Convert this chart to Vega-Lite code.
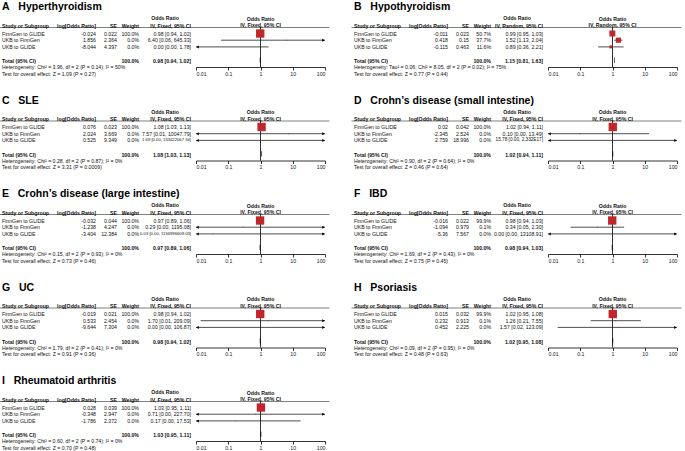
{
"$schema":"https://vega.github.io/schema/vega-lite/v6.json",
"padding":{"left":2,"top":2,"right":1,"bottom":3},
"bounds":"flush",
"columns":2,
"spacing":{"row":53.5,"column":27},
"resolve":{"scale":{"x":"independent","y":"independent","size":"independent"},"axis":{"x":"independent"}},
"config":{"view":{"stroke":null},"font":"Liberation Sans","header":{"labels":false,"title":null,"labelFontSize":0,"labelPadding":0,"titlePadding":0},"text":{"font":"Liberation Sans","fontSize":5.2,"color":"#111","baseline":"middle"}},
"data":{"values":[
{"p":"A\u00a0\u00a0\u00a0Hyperthyroidism","row":"hdr1","ci":"Odds Ratio"},
{"p":"A\u00a0\u00a0\u00a0Hyperthyroidism","row":"hdr2","study":"Study or Subgroup","logor":"log[Odds Ratio]","se":"SE","weight":"Weight","ci":"IV, Fixed, 95% CI"},
{"p":"A\u00a0\u00a0\u00a0Hyperthyroidism","row":"r1","study":"FinnGen to GLIDE","logor":"-0.024","se":"0.022","weight":"100.0%","ci":"0.98 [0.94, 1.02]","or":0.98,"lo":0.94,"hi":1.02,"w":100},
{"p":"A\u00a0\u00a0\u00a0Hyperthyroidism","row":"r2","study":"UKB to FinnGen","logor":"1.856","se":"2.364","weight":"0.0%","ci":"6.40 [0.06, 645.33]","or":6.40,"lo":0.06,"hi":645.33,"w":0},
{"p":"A\u00a0\u00a0\u00a0Hyperthyroidism","row":"r3","study":"UKB to GLIDE","logor":"-8.044","se":"4.397","weight":"0.0%","ci":"0.00 [0.00, 1.78]","or":0.00032,"lo":5.8e-8,"hi":1.78,"w":0},
{"p":"A\u00a0\u00a0\u00a0Hyperthyroidism","row":"total","study":"Total (95% CI)","weight":"100.0%","ci":"0.98 [0.94, 1.02]","or":0.98,"lo":0.94,"hi":1.02},
{"p":"A\u00a0\u00a0\u00a0Hyperthyroidism","row":"het","study":"Heterogeneity: Chi² = 3.96, df = 2 (P = 0.14); I² = 50%"},
{"p":"A\u00a0\u00a0\u00a0Hyperthyroidism","row":"test","study":"Test for overall effect: Z = 1.09 (P = 0.27)"},

{"p":"B\u00a0\u00a0\u00a0Hypothyroidism","row":"hdr1","ci":"Odds Ratio"},
{"p":"B\u00a0\u00a0\u00a0Hypothyroidism","row":"hdr2","study":"Study or Subgroup","logor":"log[Odds Ratio]","se":"SE","weight":"Weight","ci":"IV, Random, 95% CI"},
{"p":"B\u00a0\u00a0\u00a0Hypothyroidism","row":"r1","study":"FinnGen to GLIDE","logor":"-0.011","se":"0.023","weight":"50.7%","ci":"0.99 [0.95, 1.03]","or":0.99,"lo":0.95,"hi":1.03,"w":50.7},
{"p":"B\u00a0\u00a0\u00a0Hypothyroidism","row":"r2","study":"UKB to FinnGen","logor":"0.418","se":"0.15","weight":"37.7%","ci":"1.52 [1.13, 2.04]","or":1.52,"lo":1.13,"hi":2.04,"w":37.7},
{"p":"B\u00a0\u00a0\u00a0Hypothyroidism","row":"r3","study":"UKB to GLIDE","logor":"-0.115","se":"0.463","weight":"11.6%","ci":"0.89 [0.36, 2.21]","or":0.89,"lo":0.36,"hi":2.21,"w":11.6},
{"p":"B\u00a0\u00a0\u00a0Hypothyroidism","row":"total","study":"Total (95% CI)","weight":"100.0%","ci":"1.15 [0.81, 1.63]","or":1.15,"lo":0.81,"hi":1.63},
{"p":"B\u00a0\u00a0\u00a0Hypothyroidism","row":"het","study":"Heterogeneity: Tau² = 0.06; Chi² = 8.05, df = 2 (P = 0.02); I² = 75%"},
{"p":"B\u00a0\u00a0\u00a0Hypothyroidism","row":"test","study":"Test for overall effect: Z = 0.77 (P = 0.44)"},

{"p":"C\u00a0\u00a0\u00a0SLE","row":"hdr1","ci":"Odds Ratio"},
{"p":"C\u00a0\u00a0\u00a0SLE","row":"hdr2","study":"Study or Subgroup","logor":"log[Odds Ratio]","se":"SE","weight":"Weight","ci":"IV, Fixed, 95% CI"},
{"p":"C\u00a0\u00a0\u00a0SLE","row":"r1","study":"FinnGen to GLIDE","logor":"0.076","se":"0.023","weight":"100.0%","ci":"1.08 [1.03, 1.13]","or":1.08,"lo":1.03,"hi":1.13,"w":100},
{"p":"C\u00a0\u00a0\u00a0SLE","row":"r2","study":"UKB to FinnGen","logor":"2.024","se":"3.669","weight":"0.0%","ci":"7.57 [0.01, 10047.79]","or":7.57,"lo":0.0057,"hi":10047.79,"w":0},
{"p":"C\u00a0\u00a0\u00a0SLE","row":"r3","study":"UKB to GLIDE","logor":"0.525","se":"9.349","weight":"0.0%","ci":"1.69 [0.00, 153422067.34]","or":1.69,"lo":1.9e-8,"hi":153422067.34,"w":0},
{"p":"C\u00a0\u00a0\u00a0SLE","row":"total","study":"Total (95% CI)","weight":"100.0%","ci":"1.08 [1.03, 1.13]","or":1.08,"lo":1.03,"hi":1.13},
{"p":"C\u00a0\u00a0\u00a0SLE","row":"het","study":"Heterogeneity: Chi² = 0.28, df = 2 (P = 0.87); I² = 0%"},
{"p":"C\u00a0\u00a0\u00a0SLE","row":"test","study":"Test for overall effect: Z = 3.31 (P = 0.0009)"},

{"p":"D\u00a0\u00a0\u00a0Crohn’s disease (small intestine)","row":"hdr1","ci":"Odds Ratio"},
{"p":"D\u00a0\u00a0\u00a0Crohn’s disease (small intestine)","row":"hdr2","study":"Study or Subgroup","logor":"log[Odds Ratio]","se":"SE","weight":"Weight","ci":"IV, Fixed, 95% CI"},
{"p":"D\u00a0\u00a0\u00a0Crohn’s disease (small intestine)","row":"r1","study":"FinnGen to GLIDE","logor":"0.02","se":"0.042","weight":"100.0%","ci":"1.02 [0.94, 1.11]","or":1.02,"lo":0.94,"hi":1.11,"w":100},
{"p":"D\u00a0\u00a0\u00a0Crohn’s disease (small intestine)","row":"r2","study":"UKB to FinnGen","logor":"-2.345","se":"2.524","weight":"0.0%","ci":"0.10 [0.00, 13.49]","or":0.096,"lo":0.00068,"hi":13.49,"w":0},
{"p":"D\u00a0\u00a0\u00a0Crohn’s disease (small intestine)","row":"r3","study":"UKB to GLIDE","logor":"2.759","se":"18.996","weight":"0.0%","ci":"15.78 [0.00, 2.332E17]","or":15.78,"lo":1e-15,"hi":2.332e17,"w":0},
{"p":"D\u00a0\u00a0\u00a0Crohn’s disease (small intestine)","row":"total","study":"Total (95% CI)","weight":"100.0%","ci":"1.02 [0.94, 1.11]","or":1.02,"lo":0.94,"hi":1.11},
{"p":"D\u00a0\u00a0\u00a0Crohn’s disease (small intestine)","row":"het","study":"Heterogeneity: Chi² = 0.90, df = 2 (P = 0.64); I² = 0%"},
{"p":"D\u00a0\u00a0\u00a0Crohn’s disease (small intestine)","row":"test","study":"Test for overall effect: Z = 0.46 (P = 0.64)"},

{"p":"E\u00a0\u00a0\u00a0Crohn’s disease (large intestine)","row":"hdr1","ci":"Odds Ratio"},
{"p":"E\u00a0\u00a0\u00a0Crohn’s disease (large intestine)","row":"hdr2","study":"Study or Subgroup","logor":"log[Odds Ratio]","se":"SE","weight":"Weight","ci":"IV, Fixed, 95% CI"},
{"p":"E\u00a0\u00a0\u00a0Crohn’s disease (large intestine)","row":"r1","study":"FinnGen to GLIDE","logor":"-0.032","se":"0.044","weight":"100.0%","ci":"0.97 [0.89, 1.06]","or":0.97,"lo":0.89,"hi":1.06,"w":100},
{"p":"E\u00a0\u00a0\u00a0Crohn’s disease (large intestine)","row":"r2","study":"UKB to FinnGen","logor":"-1.238","se":"4.247","weight":"0.0%","ci":"0.29 [0.00, 1195.08]","or":0.29,"lo":7e-5,"hi":1195.08,"w":0},
{"p":"E\u00a0\u00a0\u00a0Crohn’s disease (large intestine)","row":"r3","study":"UKB to GLIDE","logor":"-3.404","se":"12.384","weight":"0.0%","ci":"0.03 [0.00, 1156996609.03]","or":0.033,"lo":9.5e-13,"hi":1156996609.03,"w":0},
{"p":"E\u00a0\u00a0\u00a0Crohn’s disease (large intestine)","row":"total","study":"Total (95% CI)","weight":"100.0%","ci":"0.97 [0.89, 1.06]","or":0.97,"lo":0.89,"hi":1.06},
{"p":"E\u00a0\u00a0\u00a0Crohn’s disease (large intestine)","row":"het","study":"Heterogeneity: Chi² = 0.15, df = 2 (P = 0.93); I² = 0%"},
{"p":"E\u00a0\u00a0\u00a0Crohn’s disease (large intestine)","row":"test","study":"Test for overall effect: Z = 0.73 (P = 0.46)"},

{"p":"F\u00a0\u00a0\u00a0IBD","row":"hdr1","ci":"Odds Ratio"},
{"p":"F\u00a0\u00a0\u00a0IBD","row":"hdr2","study":"Study or Subgroup","logor":"log[Odds Ratio]","se":"SE","weight":"Weight","ci":"IV, Fixed, 95% CI"},
{"p":"F\u00a0\u00a0\u00a0IBD","row":"r1","study":"FinnGen to GLIDE","logor":"-0.016","se":"0.022","weight":"99.9%","ci":"0.98 [0.94, 1.03]","or":0.98,"lo":0.94,"hi":1.03,"w":99.9},
{"p":"F\u00a0\u00a0\u00a0IBD","row":"r2","study":"UKB to FinnGen","logor":"-1.094","se":"0.979","weight":"0.1%","ci":"0.34 [0.05, 2.30]","or":0.34,"lo":0.05,"hi":2.30,"w":0.1},
{"p":"F\u00a0\u00a0\u00a0IBD","row":"r3","study":"UKB to GLIDE","logor":"-5.36","se":"7.567","weight":"0.0%","ci":"0.00 [0.00, 13108.91]","or":0.0047,"lo":1.7e-9,"hi":13108.91,"w":0},
{"p":"F\u00a0\u00a0\u00a0IBD","row":"total","study":"Total (95% CI)","weight":"100.0%","ci":"0.98 [0.94, 1.03]","or":0.98,"lo":0.94,"hi":1.03},
{"p":"F\u00a0\u00a0\u00a0IBD","row":"het","study":"Heterogeneity: Chi² = 1.69, df = 2 (P = 0.43); I² = 0%"},
{"p":"F\u00a0\u00a0\u00a0IBD","row":"test","study":"Test for overall effect: Z = 0.75 (P = 0.45)"},

{"p":"G\u00a0\u00a0\u00a0UC","row":"hdr1","ci":"Odds Ratio"},
{"p":"G\u00a0\u00a0\u00a0UC","row":"hdr2","study":"Study or Subgroup","logor":"log[Odds Ratio]","se":"SE","weight":"Weight","ci":"IV, Fixed, 95% CI"},
{"p":"G\u00a0\u00a0\u00a0UC","row":"r1","study":"FinnGen to GLIDE","logor":"-0.019","se":"0.021","weight":"100.0%","ci":"0.98 [0.94, 1.02]","or":0.98,"lo":0.94,"hi":1.02,"w":100},
{"p":"G\u00a0\u00a0\u00a0UC","row":"r2","study":"UKB to FinnGen","logor":"0.533","se":"2.454","weight":"0.0%","ci":"1.70 [0.01, 209.09]","or":1.70,"lo":0.0139,"hi":209.09,"w":0},
{"p":"G\u00a0\u00a0\u00a0UC","row":"r3","study":"UKB to GLIDE","logor":"-9.644","se":"7.304","weight":"0.0%","ci":"0.00 [0.00, 106.87]","or":0.000065,"lo":3.9e-11,"hi":106.87,"w":0},
{"p":"G\u00a0\u00a0\u00a0UC","row":"total","study":"Total (95% CI)","weight":"100.0%","ci":"0.98 [0.94, 1.02]","or":0.98,"lo":0.94,"hi":1.02},
{"p":"G\u00a0\u00a0\u00a0UC","row":"het","study":"Heterogeneity: Chi² = 1.79, df = 2 (P = 0.41); I² = 0%"},
{"p":"G\u00a0\u00a0\u00a0UC","row":"test","study":"Test for overall effect: Z = 0.91 (P = 0.36)"},

{"p":"H\u00a0\u00a0\u00a0Psoriasis","row":"hdr1","ci":"Odds Ratio"},
{"p":"H\u00a0\u00a0\u00a0Psoriasis","row":"hdr2","study":"Study or Subgroup","logor":"log[Odds Ratio]","se":"SE","weight":"Weight","ci":"IV, Fixed, 95% CI"},
{"p":"H\u00a0\u00a0\u00a0Psoriasis","row":"r1","study":"FinnGen to GLIDE","logor":"0.015","se":"0.032","weight":"99.9%","ci":"1.02 [0.95, 1.08]","or":1.02,"lo":0.95,"hi":1.08,"w":99.9},
{"p":"H\u00a0\u00a0\u00a0Psoriasis","row":"r2","study":"UKB to FinnGen","logor":"0.232","se":"0.913","weight":"0.1%","ci":"1.26 [0.21, 7.55]","or":1.26,"lo":0.21,"hi":7.55,"w":0.1},
{"p":"H\u00a0\u00a0\u00a0Psoriasis","row":"r3","study":"UKB to GLIDE","logor":"0.452","se":"2.225","weight":"0.0%","ci":"1.57 [0.02, 123.09]","or":1.57,"lo":0.02,"hi":123.09,"w":0},
{"p":"H\u00a0\u00a0\u00a0Psoriasis","row":"total","study":"Total (95% CI)","weight":"100.0%","ci":"1.02 [0.95, 1.08]","or":1.02,"lo":0.95,"hi":1.08},
{"p":"H\u00a0\u00a0\u00a0Psoriasis","row":"het","study":"Heterogeneity: Chi² = 0.09, df = 2 (P = 0.95); I² = 0%"},
{"p":"H\u00a0\u00a0\u00a0Psoriasis","row":"test","study":"Test for overall effect: Z = 0.48 (P = 0.63)"},

{"p":"I\u00a0\u00a0\u00a0Rheumatoid arthritis","row":"hdr1","ci":"Odds Ratio"},
{"p":"I\u00a0\u00a0\u00a0Rheumatoid arthritis","row":"hdr2","study":"Study or Subgroup","logor":"log[Odds Ratio]","se":"SE","weight":"Weight","ci":"IV, Fixed, 95% CI"},
{"p":"I\u00a0\u00a0\u00a0Rheumatoid arthritis","row":"r1","study":"FinnGen to GLIDE","logor":"0.028","se":"0.039","weight":"100.0%","ci":"1.03 [0.95, 1.11]","or":1.03,"lo":0.95,"hi":1.11,"w":100},
{"p":"I\u00a0\u00a0\u00a0Rheumatoid arthritis","row":"r2","study":"UKB to FinnGen","logor":"-0.348","se":"2.947","weight":"0.0%","ci":"0.71 [0.00, 227.70]","or":0.71,"lo":0.0022,"hi":227.70,"w":0},
{"p":"I\u00a0\u00a0\u00a0Rheumatoid arthritis","row":"r3","study":"UKB to GLIDE","logor":"-1.786","se":"2.372","weight":"0.0%","ci":"0.17 [0.00, 17.53]","or":0.17,"lo":0.0016,"hi":17.53,"w":0},
{"p":"I\u00a0\u00a0\u00a0Rheumatoid arthritis","row":"total","study":"Total (95% CI)","weight":"100.0%","ci":"1.03 [0.95, 1.11]","or":1.03,"lo":0.95,"hi":1.11},
{"p":"I\u00a0\u00a0\u00a0Rheumatoid arthritis","row":"het","study":"Heterogeneity: Chi² = 0.60, df = 2 (P = 0.74); I² = 0%"},
{"p":"I\u00a0\u00a0\u00a0Rheumatoid arthritis","row":"test","study":"Test for overall effect: Z = 0.70 (P = 0.48)"}
]},
"facet":{"field":"p","type":"nominal","header":{"labels":false,"title":null,"labelFontSize":0,"labelPadding":0,"labelExpr":"''"}},
"spec":{
 "width":325,"height":40,
 "resolve":{"scale":{"x":"independent"},"axis":{"x":"independent"}},
 "layer":[
  {"encoding":{"y":{"field":"row","type":"nominal","axis":null,"scale":{"type":"point","domain":["title","hdr1","hdr2","r1","r2","r3","gap","total","het","test"],"range":[-13.6,46.7],"padding":0}}},
   "layer":[
    {"transform":[{"filter":{"field":"row","equal":"hdr1"}}],
     "mark":{"type":"text","align":"left","baseline":"alphabetic","fontSize":10.5,"fontWeight":"bold","dy":-3,"color":"#000"},
     "encoding":{"x":{"datum":0,"type":"quantitative","scale":{"domain":[-1,0,1,2,3,4,5],"range":[-3,0,94,115,137,189,327],"nice":false,"zero":false},"axis":{"orient":"top","ticks":false,"labels":false,"title":null,"grid":false,"domainColor":"#808080","domainWidth":1.1}},
      "y":{"datum":"title","type":"nominal","axis":null},"text":{"field":"p"}}},
    {"transform":[{"filter":{"field":"row","equal":"hdr1"}}],
     "mark":{"type":"text","align":"center","fontWeight":"bold","dx":-26,"dy":-2},
     "encoding":{"x":{"datum":4,"type":"quantitative"},"text":{"field":"ci"}}},
    {"transform":[{"filter":{"field":"row","equal":"hdr2"}}],
     "mark":{"type":"text","align":"left","fontWeight":"bold","dy":-1.3},
     "encoding":{"x":{"datum":0,"type":"quantitative"},"text":{"field":"study"}}},
    {"transform":[{"filter":{"field":"row","equal":"hdr2"}}],
     "mark":{"type":"text","align":"right","fontWeight":"bold","dy":-1.3},
     "encoding":{"x":{"datum":1,"type":"quantitative"},"text":{"field":"logor"}}},
    {"transform":[{"filter":{"field":"row","equal":"hdr2"}}],
     "mark":{"type":"text","align":"right","fontWeight":"bold","dy":-1.3},
     "encoding":{"x":{"datum":2,"type":"quantitative"},"text":{"field":"se"}}},
    {"transform":[{"filter":{"field":"row","equal":"hdr2"}}],
     "mark":{"type":"text","align":"right","fontWeight":"bold","dy":-1.3},
     "encoding":{"x":{"datum":3,"type":"quantitative"},"text":{"field":"weight"}}},
    {"transform":[{"filter":{"field":"row","equal":"hdr2"}}],
     "mark":{"type":"text","align":"right","fontWeight":"bold","dy":-1.3},
     "encoding":{"x":{"datum":4,"type":"quantitative"},"text":{"field":"ci"}}},
    {"transform":[{"filter":{"field":"row","oneOf":["r1","r2","r3","het","test"]}}],
     "mark":{"type":"text","align":"left"},
     "encoding":{"x":{"datum":0,"type":"quantitative"},"text":{"field":"study"}}},
    {"transform":[{"filter":{"field":"row","equal":"total"}}],
     "mark":{"type":"text","align":"left","fontWeight":"bold","dy":1},
     "encoding":{"x":{"datum":0,"type":"quantitative"},"text":{"field":"study"}}},
    {"transform":[{"filter":{"field":"row","oneOf":["r1","r2","r3"]}}],
     "mark":{"type":"text","align":"right"},
     "encoding":{"x":{"datum":1,"type":"quantitative"},"text":{"field":"logor"}}},
    {"transform":[{"filter":{"field":"row","oneOf":["r1","r2","r3"]}}],
     "mark":{"type":"text","align":"right"},
     "encoding":{"x":{"datum":2,"type":"quantitative"},"text":{"field":"se"}}},
    {"transform":[{"filter":{"field":"row","oneOf":["r1","r2","r3"]}}],
     "mark":{"type":"text","align":"right"},
     "encoding":{"x":{"datum":3,"type":"quantitative"},"text":{"field":"weight"}}},
    {"transform":[{"filter":{"field":"row","oneOf":["r1","r2","r3"]}}],
     "mark":{"type":"text","align":"right"},
     "encoding":{"x":{"datum":4,"type":"quantitative"},"text":{"field":"ci"},
      "size":{"condition":[{"test":"length(datum.ci) >= 25","value":4.2},{"test":"length(datum.ci) >= 22","value":4.7}],"value":5.2}}},
    {"transform":[{"filter":{"field":"row","equal":"total"}}],
     "mark":{"type":"text","align":"right","fontWeight":"bold","dy":1},
     "encoding":{"x":{"datum":3,"type":"quantitative"},"text":{"field":"weight"}}},
    {"transform":[{"filter":{"field":"row","equal":"total"}}],
     "mark":{"type":"text","align":"right","fontWeight":"bold","dy":1},
     "encoding":{"x":{"datum":4,"type":"quantitative"},"text":{"field":"ci"}}}
   ]},
  {"layer":[
    {"transform":[{"filter":{"field":"row","equal":"hdr1"}}],
     "mark":{"type":"rule","color":"#000","strokeWidth":0.8},
     "encoding":{"x":{"datum":1,"type":"quantitative","scale":{"type":"log","domain":[0.01,100],"range":[194,323],"clamp":true,"nice":false},
       "axis":{"orient":"bottom","values":[0.01,0.1,1,10,100],"format":"~g","title":null,"grid":false,"labelFontSize":5.2,"labelFont":"Liberation Sans","labelColor":"#222","labelFlush":true,"labelOverlap":false,"tickSize":3,"tickWidth":0.8,"tickColor":"#000","domainColor":"#000","domainWidth":0.8,"labelPadding":1}}}},
    {"transform":[{"filter":{"field":"row","oneOf":["r1","r2","r3"]}}],
     "mark":{"type":"rule","color":"#222","strokeWidth":0.8},
     "encoding":{"x":{"field":"lo","type":"quantitative"},"x2":{"field":"hi"},"y":{"field":"row","type":"nominal","axis":null}}},
    {"transform":[{"filter":"(datum.row == 'r1' || datum.row == 'r2' || datum.row == 'r3') && datum.lo < 0.01"}],
     "mark":{"type":"point","shape":"triangle-left","filled":true,"color":"#000","opacity":1,"size":9,"xOffset":1.5},
     "encoding":{"x":{"field":"lo","type":"quantitative"},"y":{"field":"row","type":"nominal","axis":null}}},
    {"transform":[{"filter":"(datum.row == 'r1' || datum.row == 'r2' || datum.row == 'r3') && datum.hi > 100"}],
     "mark":{"type":"point","shape":"triangle-right","filled":true,"color":"#000","opacity":1,"size":9,"xOffset":-1.5},
     "encoding":{"x":{"field":"hi","type":"quantitative"},"y":{"field":"row","type":"nominal","axis":null}}},
    {"transform":[{"filter":"(datum.row == 'r1' || datum.row == 'r2' || datum.row == 'r3') && datum.or >= 0.01 && datum.or <= 100"}],
     "mark":{"type":"point","shape":"square","filled":true,"color":"#c0272d","opacity":1,"strokeWidth":0},
     "encoding":{"x":{"field":"or","type":"quantitative"},"y":{"field":"row","type":"nominal","axis":null},
      "size":{"field":"w","type":"quantitative","scale":{"domain":[0,100],"range":[0.8,70]},"legend":null}}},
    {"transform":[{"filter":{"field":"row","equal":"total"}},{"fold":["lo","or","hi"],"as":["k","v"]}],
     "mark":{"type":"area","orient":"vertical","color":"#000","opacity":1,"strokeWidth":0.4,"stroke":"#000","yOffset":{"expr":"datum.k == 'or' ? -2.6 : 0"},"y2Offset":{"expr":"datum.k == 'or' ? 2.6 : 0"}},
     "encoding":{"x":{"field":"v","type":"quantitative","stack":null},"y":{"field":"row","type":"nominal","axis":null},"y2":{"field":"row"},
      "order":{"field":"v","type":"quantitative"}}},
    {"transform":[{"filter":{"field":"row","oneOf":["hdr1","hdr2"]}}],
     "mark":{"type":"text","align":"center","fontWeight":"bold","dy":-1.6},
     "encoding":{"x":{"datum":1,"type":"quantitative"},"y":{"field":"row","type":"nominal","axis":null},"text":{"field":"ci"}}}
  ]}
 ]
}
}
